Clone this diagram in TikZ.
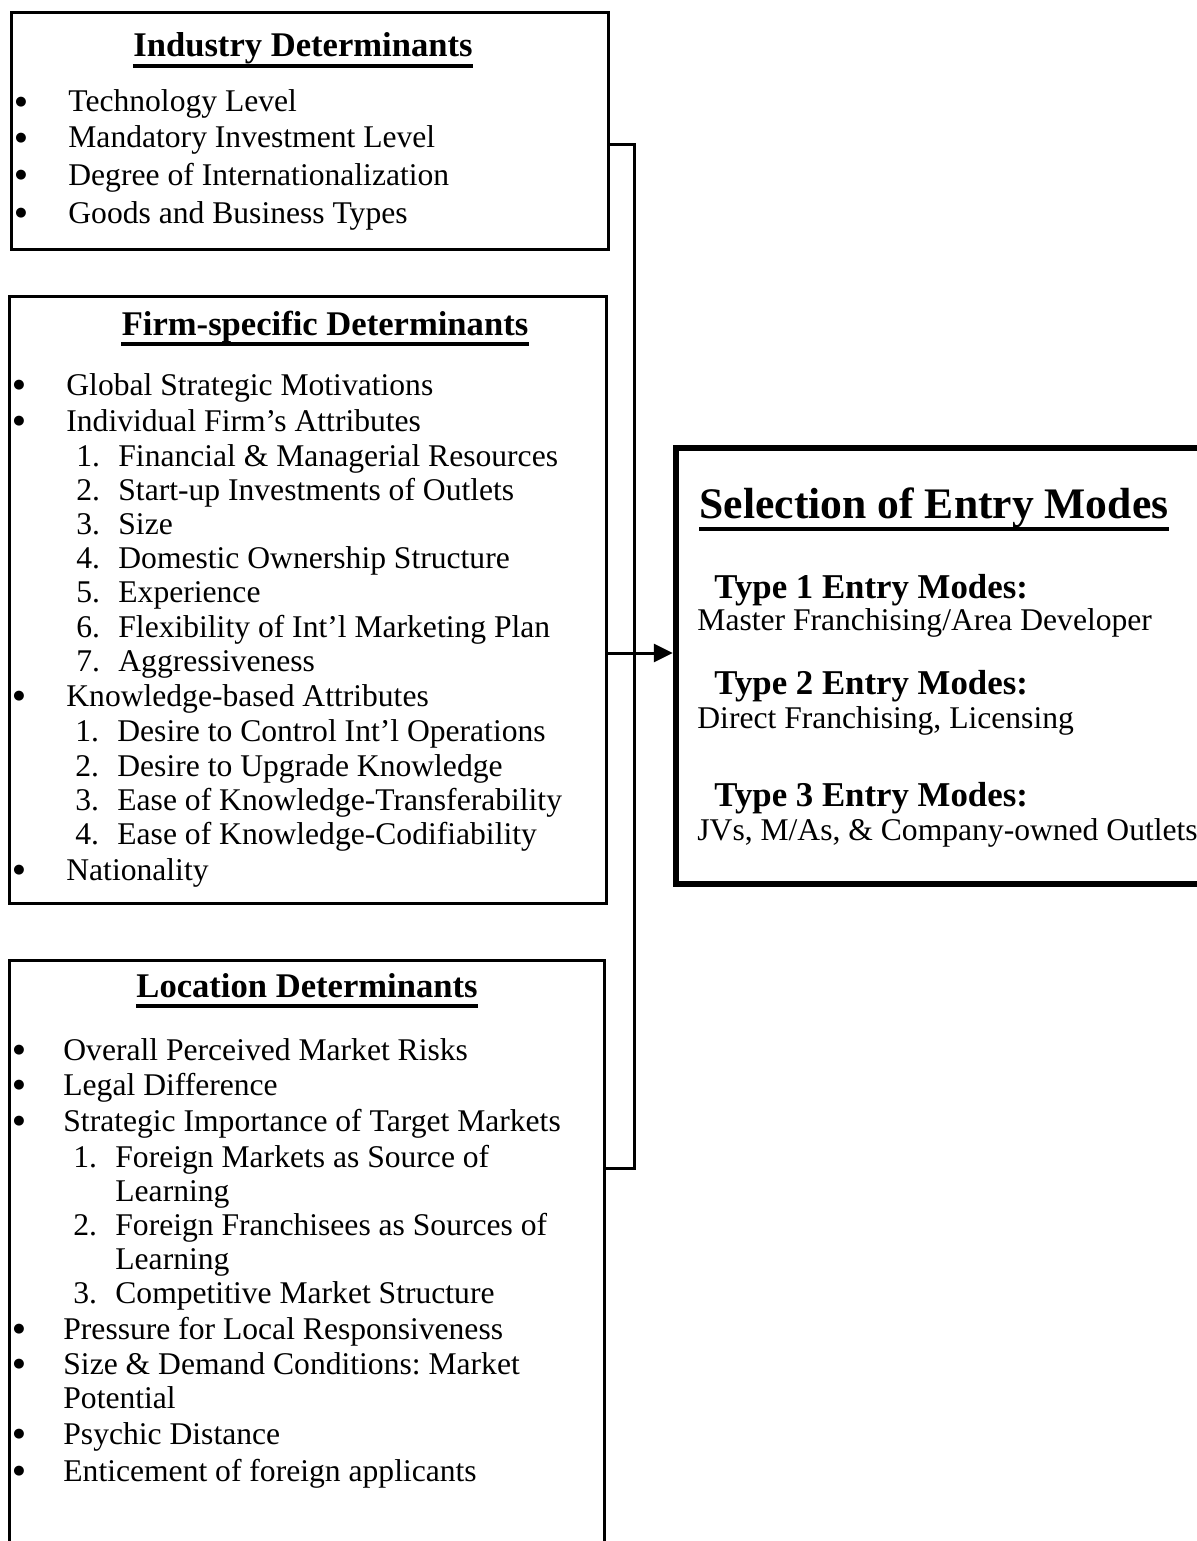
\documentclass[tikz,border=0pt]{standalone}
\usepackage{fontspec}
\setmainfont{Liberation Serif}
\newfontfamily\bulfont{DejaVu Sans}
\usetikzlibrary{arrows.meta,fit}
\frenchspacing
\begin{document}
\begin{tikzpicture}[x=0.5pt,y=-0.5pt,
  box/.style={draw,line width=1.5pt,inner sep=0pt},
  selbox/.style={draw,line width=3.2pt,inner sep=0pt},
  body/.style={anchor=base west,inner sep=0pt,font=\fontsize{15.8}{18}\selectfont},
  bul/.style={anchor=center,inner sep=0pt,font=\bulfont\fontsize{6.5}{8}\selectfont},
  ttl/.style={anchor=base,inner sep=0pt,font=\fontsize{17.3}{20}\selectfont\bfseries},
  bigttl/.style={anchor=base,inner sep=0pt,font=\fontsize{21.8}{25}\selectfont\bfseries},
  typettl/.style={anchor=base west,inner sep=0pt,font=\fontsize{17.4}{20}\selectfont\bfseries},
  uline/.style={line width=1.7pt},
  conn/.style={line width=1.5pt}
]
\useasboundingbox (0,0) rectangle (1197,1541);
\clip (0,0) rectangle (1197,1541);

% boxes
\node[box,fit={(11,13) (608,249)}] (ind) {};
\node[box,fit={(9,296) (606,903)}] (firm) {};
\node[box,fit={(9,960) (604,1570)}] (loc) {};
\node[selbox,fit={(676,448) (1215,884)}] (sel) {};

% Industry
\node[ttl] (t1) at (303,57) {Industry Determinants};
\draw[uline] ([yshift=-4.5pt]t1.base west) -- ([yshift=-4.5pt]t1.base east);
\node[bul] (ib1) at (21,102) {●};
\node[body] (i1) at (68,112) {Technology Level};
\node[bul] (ib2) at (21,138) {●};
\node[body] (i2) at (68,148) {Mandatory Investment Level};
\node[bul] (ib3) at (21,175) {●};
\node[body] (i3) at (68,185) {Degree of Internationalization};
\node[bul] (ib4) at (21,213) {●};
\node[body] (i4) at (68,223) {Goods and Business Types};

% Firm-specific
\node[ttl] (t2) at (325,335) {Firm-specific Determinants};
\draw[uline] ([yshift=-4.5pt]t2.base west) -- ([yshift=-4.5pt]t2.base east);
\node[bul] (fb1) at (19,385) {●};
\node[body] (f1) at (66,395) {Global Strategic Motivations};
\node[bul] (fb2) at (19,421) {●};
\node[body] (f2) at (66,431) {Individual Firm's Attributes};
\node[body] (fn1) at (76,466) {1.};
\node[body] (f3) at (118,466) {Financial \& Managerial Resources};
\node[body] (fn2) at (76,500) {2.};
\node[body] (f4) at (118,500) {Start-up Investments of Outlets};
\node[body] (fn3) at (76,534) {3.};
\node[body] (f5) at (118,534) {Size};
\node[body] (fn4) at (76,568) {4.};
\node[body] (f6) at (118,568) {Domestic Ownership Structure};
\node[body] (fn5) at (76,602) {5.};
\node[body] (f7) at (118,602) {Experience};
\node[body] (fn6) at (76,637) {6.};
\node[body] (f8) at (118,637) {Flexibility of Int'l Marketing Plan};
\node[body] (fn7) at (76,671) {7.};
\node[body] (f9) at (118,671) {Aggressiveness};
\node[bul] (fb3) at (19,696) {●};
\node[body] (f10) at (66,706) {Knowledge-based Attributes};
\node[body] (fn8) at (75,741) {1.};
\node[body] (f11) at (117,741) {Desire to Control Int'l Operations};
\node[body] (fn9) at (75,776) {2.};
\node[body] (f12) at (117,776) {Desire to Upgrade Knowledge};
\node[body] (fn10) at (75,810) {3.};
\node[body] (f13) at (117,810) {Ease of Knowledge-Transferability};
\node[body] (fn11) at (75,844) {4.};
\node[body] (f14) at (117,844) {Ease of Knowledge-Codifiability};
\node[bul] (fb4) at (19,870) {●};
\node[body] (f15) at (66,880) {Nationality};

% Location
\node[ttl] (t3) at (307,997) {Location Determinants};
\draw[uline] ([yshift=-4.5pt]t3.base west) -- ([yshift=-4.5pt]t3.base east);
\node[bul] (lb1) at (19,1050) {●};
\node[body] (l1) at (63,1060) {Overall Perceived Market Risks};
\node[bul] (lb2) at (19,1085) {●};
\node[body] (l2) at (63,1095) {Legal Difference};
\node[bul] (lb3) at (19,1121) {●};
\node[body] (l3) at (63,1131) {Strategic Importance of Target Markets};
\node[body] (ln1) at (73,1167) {1.};
\node[body] (l4) at (115,1167) {Foreign Markets as Source of};
\node[body] (l4b) at (115,1201) {Learning};
\node[body] (ln2) at (73,1235) {2.};
\node[body] (l5) at (115,1235) {Foreign Franchisees as Sources of};
\node[body] (l5b) at (115,1269) {Learning};
\node[body] (ln3) at (73,1303) {3.};
\node[body] (l6) at (115,1303) {Competitive Market Structure};
\node[bul] (lb4) at (19,1329) {●};
\node[body] (l7) at (63,1339) {Pressure for Local Responsiveness};
\node[bul] (lb5) at (19,1364) {●};
\node[body] (l8) at (63,1374) {Size \& Demand Conditions: Market};
\node[body] (l8b) at (63,1408) {Potential};
\node[bul] (lb6) at (19,1434) {●};
\node[body] (l9) at (63,1444) {Psychic Distance};
\node[bul] (lb7) at (19,1471) {●};
\node[body] (l10) at (63,1481) {Enticement of foreign applicants};

% Selection
\node[bigttl] (t4) at (934,518) {Selection of Entry Modes};
\draw[uline] ([yshift=-5.5pt]t4.base west) -- ([yshift=-5.5pt]t4.base east);
\node[typettl] (s1) at (714,598) {Type 1 Entry Modes:};
\node[body] (s1d) at (697,630) {Master Franchising/Area Developer};
\node[typettl] (s2) at (714,694) {Type 2 Entry Modes:};
\node[body] (s2d) at (697,728) {Direct Franchising, Licensing};
\node[typettl] (s3) at (714,806) {Type 3 Entry Modes:};
\node[body] (s3d) at (697,840) {JVs, M/As, \& Company-owned Outlets};

% connectors
\coordinate (j1) at (634,144);
\coordinate (j3) at (634,1168);
\coordinate (ja) at (634,653);
\draw[conn] (ind.east |- j1) -- (j1) -- (j3) -- (loc.east |- j3);
\draw[conn,-{Triangle[length=9.5pt,width=9pt]}] (firm.east |- ja) -- (sel.west |- ja);
\end{tikzpicture}
\end{document}
